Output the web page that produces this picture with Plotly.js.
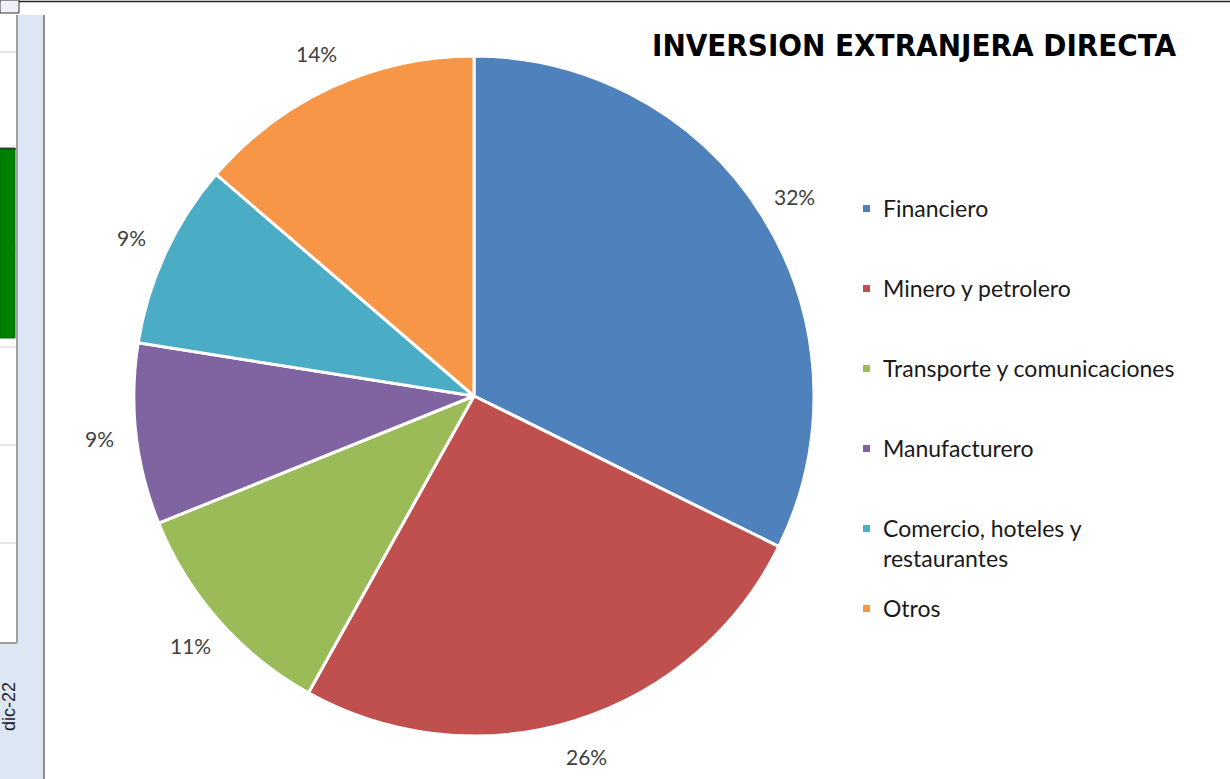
<!DOCTYPE html>
<html>
<head>
<meta charset="utf-8">
<script src="https://cdn.plot.ly/plotly-3.0.1.min.js"></script>
<style>
html,body{margin:0;padding:0;background:#fff;}
#chart{width:1230px;height:779px;}
</style>
</head>
<body>
<div id="chart"></div>
<script>
// ---- data ----
const categories = ["Financiero", "Minero y petrolero", "Transporte y comunicaciones", "Manufacturero", "Comercio, hoteles y restaurantes", "Otros"];
const legendLabels = ["Financiero", "Minero y petrolero", "Transporte y comunicaciones", "Manufacturero", "Comercio, hoteles y<br>restaurantes", "Otros"];
const shares = [32.3, 25.8, 10.8, 8.6, 8.8, 13.7];
const colors = ["#4F81BD", "#C0504D", "#9BBB59", "#8064A2", "#4BACC6", "#F79646"];
const chartTitle = "INVERSION EXTRANJERA DIRECTA";
const sideLabel = "dic-22";

// ---- layout geometry ----
const W = 1230, H = 779;
const cxPx = 474, cyPx = 396, Rpx = 340;
const domX = [(cxPx - Rpx) / W, (cxPx + Rpx) / W];
const domY = [1 - (cyPx + Rpx) / H, 1 - (cyPx - Rpx) / H];
const px2x = p => p / W, py2y = p => 1 - p / H;

const trace = {
  type: "pie",
  labels: categories,
  values: shares,
  sort: false,
  direction: "clockwise",
  rotation: 0,
  marker: {colors: colors, line: {color: "#ffffff", width: 3}},
  textinfo: "none",
  hoverinfo: "label+percent",
  showlegend: false,
  domain: {x: domX, y: domY}
};

const annotations = [];
const shapes = [];
const total = shares.reduce((a, b) => a + b, 0);
let cum = 0;
const k = 1.11;
shares.forEach((v, i) => {
  const mid = (cum + v / 2) / total * 2 * Math.PI;
  cum += v;
  const px = cxPx + k * Rpx * Math.sin(mid);
  const py = cyPx - k * Rpx * Math.cos(mid);
  annotations.push({
    xref: "paper", yref: "paper", x: px2x(px), y: py2y(py),
    text: Math.round(v / total * 100) + "%", showarrow: false,
    xanchor: "center", yanchor: "middle",
    font: {family: "Lato, 'Open Sans', sans-serif", size: 21, color: "#404040"}
  });
});

// legend (custom, spaced like the reference)
const legX = 881, legSq = 863, legY0 = 208, legStep = 80;
legendLabels.forEach((lab, i) => {
  const yPx = legY0 + i * legStep;
  annotations.push({
    xref: "paper", yref: "paper", x: px2x(legX), y: py2y(yPx - 16),
    text: lab, showarrow: false, xanchor: "left", yanchor: "top", align: "left",
    font: {family: "Lato, 'Open Sans', sans-serif", size: 23, color: "#1a1a1a"}
  });
  shapes.push({
    type: "rect", xref: "paper", yref: "paper",
    x0: px2x(legSq), x1: px2x(legSq + 7), y0: py2y(yPx + 4), y1: py2y(yPx - 3),
    fillcolor: colors[i], line: {width: 0}
  });
});

// Excel window strip on the left
shapes.push(
  {type: "rect", xref: "paper", yref: "paper", x0: px2x(17), x1: px2x(44), y0: py2y(H), y1: py2y(15), fillcolor: "#DCE6F4", line: {width: 0}, layer: "below"},
  {type: "rect", xref: "paper", yref: "paper", x0: px2x(0), x1: px2x(17), y0: py2y(H), y1: py2y(643), fillcolor: "#DCE6F4", line: {width: 0}, layer: "below"},
  {type: "line", xref: "paper", yref: "paper", x0: px2x(17), x1: px2x(17), y0: py2y(643), y1: py2y(15), line: {color: "#A0A0A0", width: 2}},
  {type: "line", xref: "paper", yref: "paper", x0: px2x(0), x1: px2x(17), y0: py2y(643), y1: py2y(643), line: {color: "#A0A0A0", width: 2}},
  {type: "line", xref: "paper", yref: "paper", x0: px2x(44), x1: px2x(44), y0: py2y(H), y1: py2y(15), line: {color: "#6E6E6E", width: 1.5}},
  {type: "rect", xref: "paper", yref: "paper", x0: px2x(0), x1: px2x(19), y0: py2y(13), y1: py2y(0), fillcolor: "#EEF1F8", line: {color: "#333", width: 1}},
  {type: "line", xref: "paper", yref: "paper", x0: px2x(19), x1: px2x(W), y0: py2y(1.5), y1: py2y(1.5), line: {color: "#222", width: 1.5}}
);
[52, 248, 347, 445, 543].forEach(g => shapes.push({type: "line", xref: "paper", yref: "paper", x0: 0, x1: px2x(16), y0: py2y(g), y1: py2y(g), line: {color: "#CFCFCF", width: 1}}));
shapes.push(
  {type: "rect", xref: "paper", yref: "paper", x0: px2x(0), x1: px2x(15), y0: py2y(338), y1: py2y(148), fillcolor: "#008000", line: {color: "#007000", width: 1}},
  {type: "line", xref: "paper", yref: "paper", x0: 0, x1: px2x(16), y0: py2y(149), y1: py2y(149), line: {color: "#333", width: 1.2}}
);
annotations.push({
  xref: "paper", yref: "paper", x: px2x(9), y: py2y(707), text: sideLabel, textangle: -90,
  showarrow: false, xanchor: "center", yanchor: "middle",
  font: {family: "'Liberation Sans', Arial, sans-serif", size: 18, color: "#222"}
});

const layout = {
  width: W, height: H,
  margin: {l: 0, r: 0, t: 0, b: 0},
  paper_bgcolor: "#ffffff",
  showlegend: false,
  title: {
    text: "<b>" + chartTitle + "</b>",
    x: px2x(914), xref: "paper", xanchor: "center",
    y: py2y(45), yref: "paper", yanchor: "middle",
    font: {family: "'Liberation Sans Narrow', 'Arial Narrow', 'DejaVu Sans Condensed', sans-serif", size: 31, color: "#000"}
  },
  annotations: annotations,
  shapes: shapes
};

Plotly.newPlot("chart", [trace], layout, {displayModeBar: false});
</script>
</body>
</html>
